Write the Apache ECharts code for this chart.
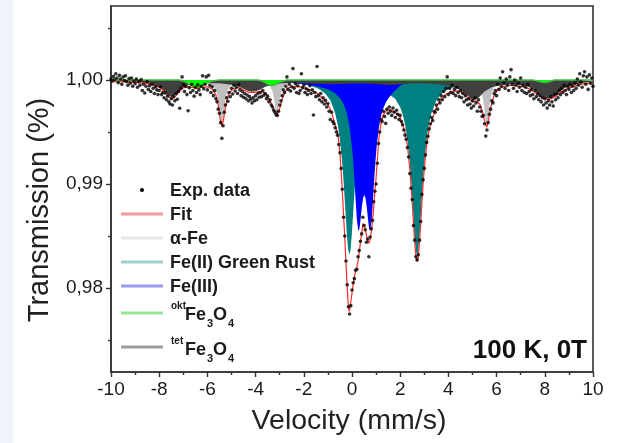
<!DOCTYPE html>
<html><head><meta charset="utf-8">
<script src="https://cdn.jsdelivr.net/npm/echarts@6/dist/echarts.min.js"></script>
<style>html,body{margin:0;padding:0;background:#fff}#c{width:622px;height:443px}</style>
</head><body><div id="c"></div>
<script>
// ---- axis ticks ----
const yTickValues = [0.98, 0.99, 1.00];
const yMinorTickValues = [0.975, 0.985, 0.995, 1.005];

// ---- experimental data: channel grid (-10 mm/s, step 0.05 mm/s) and transmission ----
const expStartV = -10;
const expStepV = 0.05;
const expT = [
1.00010,0.99990,1.00035,1.00005,1.00060,1.00020,0.99975,1.00045,1.00010,0.99960,1.00030,0.99995,1.00040,0.99985,0.99950,1.00015,0.99970,1.00020,0.99940,0.99990,
0.99965,1.00010,0.99930,0.99985,0.99950,1.00005,0.99900,0.99960,0.99875,0.99940,0.99985,0.99910,0.99945,0.99890,0.99960,0.99920,0.99870,0.99935,0.99905,0.99860,
0.99900,0.99935,0.99860,0.99880,0.99830,0.99875,0.99810,0.99845,0.99790,0.99770,0.99820,0.99760,0.99840,0.99800,0.99870,0.99815,0.99890,0.99728,0.99920,1.00030,
0.99955,0.99890,0.99940,0.99860,0.99705,0.99925,0.99880,0.99960,0.99900,0.99845,0.99930,0.99880,0.99955,0.99905,0.99860,0.99940,1.00040,0.99915,0.99960,1.00030,
0.99905,1.00045,0.99950,0.99880,0.99935,0.99850,0.99900,0.99820,0.99790,0.99720,0.99680,0.99590,0.99439,0.99560,0.99690,0.99760,0.99830,0.99795,0.99880,0.99840,
0.99920,0.99865,0.99950,0.99895,0.99930,0.99870,0.99960,0.99905,0.99850,0.99890,0.99835,0.99870,0.99820,0.99855,0.99800,0.99840,0.99815,0.99780,0.99830,0.99800,
0.99850,0.99810,0.99870,0.99835,0.99880,0.99840,0.99900,0.99855,0.99870,0.99820,0.99845,0.99790,0.99810,0.99760,0.99740,0.99710,0.99690,0.99665,0.99660,0.99700,
0.99760,0.99800,0.99850,0.99905,0.99880,0.99940,1.00030,0.99910,0.99960,0.99895,0.99935,1.00110,0.99920,0.99965,0.99880,0.99945,0.99870,0.99900,1.00060,0.99925,
0.99950,0.99880,0.99915,0.99860,0.99900,0.99945,0.99870,0.99905,0.99663,0.99880,0.99840,1.00130,0.99850,0.99810,0.99870,0.99790,0.99830,0.99770,0.99805,0.99740,
0.99775,0.99700,0.99620,0.99690,0.99600,0.99580,0.99540,0.99500,0.99470,0.99380,0.99300,0.99150,0.98950,0.98680,0.98500,0.98260,0.98030,0.97820,0.97750,0.97830,
0.97980,0.98050,0.98090,0.98170,0.98180,0.98300,0.98360,0.98450,0.98520,0.98680,0.98600,0.98560,0.98440,0.98470,0.98300,0.98490,0.98570,0.98650,0.98830,0.98930,
0.99000,0.99200,0.99390,0.99500,0.99620,0.99600,0.99700,0.99650,0.99583,0.99720,0.99680,0.99740,0.99700,0.99660,0.99730,0.99690,0.99640,0.99710,0.99670,0.99620,
0.99660,0.99600,0.99570,0.99520,0.99470,0.99430,0.99350,0.99260,0.99100,0.98960,0.98850,0.98600,0.98460,0.98300,0.98270,0.98320,0.98460,0.98640,0.98900,0.99040,
0.99150,0.99280,0.99400,0.99460,0.99530,0.99580,0.99640,0.99610,0.99700,0.99690,0.99760,0.99720,0.99810,0.99780,0.99850,0.99810,0.99890,0.99840,0.99920,1.00030,
0.99860,0.99920,0.99880,0.99950,0.99870,0.99910,0.99850,0.99930,0.99880,0.99840,0.99900,0.99830,0.99870,0.99790,0.99850,0.99810,0.99760,0.99820,0.99770,0.99730,
0.99800,0.99750,0.99830,0.99780,0.99700,0.99810,0.99740,0.99700,0.99650,0.99660,0.99580,0.99461,0.99520,0.99590,0.99670,0.99720,0.99800,0.99780,0.99870,0.99900,
0.99850,0.99960,0.99910,1.00020,0.99940,1.00080,0.99970,0.99920,1.00010,0.99950,0.99900,1.00030,1.00100,0.99960,0.99920,1.00000,0.99950,0.99890,0.99970,0.99930,
1.00020,0.99900,0.99950,0.99880,0.99930,0.99870,0.99960,0.99890,0.99850,0.99910,0.99860,0.99820,0.99900,0.99840,0.99870,0.99810,0.99850,0.99790,0.99830,0.99760,
0.99820,0.99780,0.99730,0.99800,0.99760,0.99840,0.99790,0.99750,0.99860,0.99810,0.99870,0.99830,0.99900,0.99860,0.99920,0.99880,0.99950,0.99900,0.99860,0.99940,
0.99910,0.99960,0.99880,0.99940,0.99900,0.99970,0.99920,1.00010,0.99950,1.00060,0.99980,0.99930,1.00040,1.00080,0.99960,1.00030,0.99910,1.00050,0.99970,1.00020,0.99940
];

// ---- fit and subspectra: [velocity, transmission] ----
const fitCurve = [
[-10.0,0.99985],[-9.5,0.99982],[-9.0,0.99978],[-8.6,0.99970],[-8.3,0.99955],[-8.0,0.99930],[-7.8,0.99895],[-7.65,0.99855],[-7.48,0.99814],[-7.3,0.99850],[-7.15,0.99895],[-7.0,0.99925],[-6.8,0.99935],[-6.6,0.99928],[-6.44,0.99918],[-6.25,0.99928],[-6.0,0.99935],[-5.8,0.99915],[-5.65,0.99860],[-5.55,0.99760],[-5.47,0.99620],[-5.40,0.99555],[-5.33,0.99620],[-5.25,0.99750],[-5.12,0.99865],[-4.95,0.99915],[-4.7,0.99928],[-4.5,0.99905],[-4.25,0.99880],[-4.0,0.99882],[-3.75,0.99893],[-3.55,0.99860],[-3.4,0.99800],[-3.25,0.99720],[-3.12,0.99670],[-3.0,0.99725],[-2.88,0.99830],[-2.7,0.99918],[-2.5,0.99938],[-2.2,0.99936],[-1.9,0.99920],[-1.6,0.99895],[-1.4,0.99865],[-1.2,0.99820],[-1.0,0.99765],[-0.9,0.99720],[-0.8,0.99650],[-0.7,0.99570],[-0.6,0.99490],[-0.55,0.99410],[-0.5,0.99290],[-0.45,0.99120],[-0.4,0.98920],[-0.35,0.98700],[-0.3,0.98490],[-0.25,0.98240],[-0.2,0.98010],[-0.16,0.97850],[-0.12,0.97775],[-0.08,0.97810],[-0.04,0.97880],[0.0,0.97950],[0.05,0.98040],[0.1,0.98110],[0.15,0.98160],[0.2,0.98200],[0.26,0.98270],[0.33,0.98400],[0.4,0.98530],[0.46,0.98620],[0.52,0.98600],[0.58,0.98530],[0.64,0.98460],[0.7,0.98430],[0.76,0.98470],[0.82,0.98580],[0.88,0.98720],[0.94,0.98900],[1.0,0.99060],[1.06,0.99260],[1.12,0.99450],[1.2,0.99580],[1.3,0.99670],[1.45,0.99710],[1.6,0.99715],[1.8,0.99690],[2.0,0.99640],[2.2,0.99500],[2.3,0.99370],[2.4,0.99140],[2.45,0.98990],[2.5,0.98820],[2.55,0.98630],[2.6,0.98440],[2.65,0.98310],[2.7,0.98255],[2.75,0.98300],[2.8,0.98440],[2.85,0.98620],[2.9,0.98820],[2.95,0.99000],[3.0,0.99150],[3.1,0.99380],[3.2,0.99520],[3.3,0.99600],[3.5,0.99740],[3.7,0.99820],[3.9,0.99865],[4.1,0.99888],[4.3,0.99895],[4.5,0.99888],[4.7,0.99855],[4.9,0.99810],[5.04,0.99790],[5.18,0.99800],[5.32,0.99760],[5.43,0.99680],[5.52,0.99590],[5.59,0.99545],[5.66,0.99610],[5.75,0.99730],[5.88,0.99840],[6.05,0.99910],[6.3,0.99940],[6.6,0.99950],[7.0,0.99940],[7.3,0.99920],[7.6,0.99880],[7.85,0.99840],[8.15,0.99810],[8.45,0.99840],[8.7,0.99890],[9.0,0.99925],[9.5,0.99960],[10.0,0.99975]
];

const greenRustCurve = [
[-10,0.99996],[-6,0.99992],[-4,0.99988],[-3,0.99980],[-2.3,0.99968],[-1.8,0.99950],[-1.4,0.99919],[-1.1,0.99869],[-0.9,0.99805],[-0.7,0.99684],[-0.6,0.99580],[-0.5,0.99424],[-0.41,0.99213],[-0.36,0.99060],[-0.31,0.98883],[-0.26,0.98691],[-0.21,0.98508],[-0.16,0.98371],[-0.11,0.98320],[-0.06,0.98371],[-0.01,0.98508],[0.04,0.98691],[0.09,0.98883],[0.14,0.99060],[0.19,0.99213],[0.29,0.99438],[0.39,0.99586],[0.49,0.99684],[0.69,0.99798],[0.89,0.99840],[1.19,0.99870],[1.4,0.99871],[1.6,0.99854],[1.8,0.99817],[2.0,0.99739],[2.1,0.99674],[2.2,0.99575],[2.3,0.99426],[2.4,0.99198],[2.45,0.99046],[2.5,0.98868],[2.55,0.98677],[2.6,0.98492],[2.65,0.98354],[2.7,0.98315],[2.75,0.98356],[2.8,0.98495],[2.85,0.98680],[2.9,0.98872],[2.95,0.99050],[3.0,0.99203],[3.1,0.99434],[3.2,0.99585],[3.3,0.99686],[3.5,0.99803],[3.7,0.99865],[4.0,0.99913],[4.4,0.99945],[4.9,0.99962],[5.7,0.99977],[7.0,0.99987],[10,0.99994]
];

const fe3Curve = [
[-3.3,1.0],[-3.0,0.99984],[-2.7,0.99977],[-2.5,0.99971],[-2.0,0.99960],[-1.5,0.99942],[-1.0,0.99911],[-0.7,0.99873],[-0.5,0.99826],[-0.4,0.99792],[-0.3,0.99740],[-0.2,0.99666],[-0.1,0.99548],[0.0,0.99351],[0.05,0.99212],[0.1,0.99039],[0.15,0.98846],[0.2,0.98666],[0.26,0.98548],[0.31,0.98569],[0.36,0.98668],[0.41,0.98783],[0.46,0.98865],[0.51,0.98894],[0.56,0.98865],[0.61,0.98783],[0.66,0.98668],[0.71,0.98569],[0.76,0.98548],[0.82,0.98666],[0.87,0.98846],[0.92,0.99039],[0.97,0.99212],[1.02,0.99351],[1.12,0.99548],[1.22,0.99666],[1.32,0.99740],[1.42,0.99792],[1.52,0.99826],[1.72,0.99885],[1.95,0.99935],[2.2,0.99975],[2.4,1.0]
];

const alphaFeCurve = [
[-10,1.0],[-6.4,0.99995],[-6.1,0.99985],[-5.85,0.99966],[-5.7,0.99930],[-5.6,0.99869],[-5.55,0.99811],[-5.5,0.99723],[-5.45,0.99617],[-5.4,0.99560],[-5.35,0.99617],[-5.3,0.99723],[-5.25,0.99811],[-5.2,0.99869],[-5.1,0.99930],[-4.95,0.99966],[-4.7,0.99985],[-4.4,0.99990],[-4.0,0.99985],[-3.82,0.99980],[-3.57,0.99970],[-3.42,0.99945],[-3.32,0.99903],[-3.27,0.99861],[-3.22,0.99797],[-3.17,0.99719],[-3.12,0.99678],[-3.07,0.99719],[-3.02,0.99797],[-2.97,0.99861],[-2.92,0.99903],[-2.82,0.99945],[-2.67,0.99970],[-2.42,0.99985],[-2.0,0.99992],[-1.5,1.0],[4.3,1.0],[4.6,0.99993],[4.89,0.99985],[5.14,0.99966],[5.29,0.99930],[5.39,0.99869],[5.44,0.99811],[5.49,0.99723],[5.54,0.99617],[5.59,0.99560],[5.64,0.99617],[5.69,0.99723],[5.74,0.99811],[5.79,0.99869],[5.89,0.99930],[6.04,0.99966],[6.29,0.99985],[6.6,0.99993],[7.0,1.0],[10,1.0]
];

const tetFe3O4Curve = [
[-10,0.99995],[-9,0.99985],[-8.5,0.99970],[-8.2,0.99945],[-7.95,0.99920],[-7.8,0.99895],[-7.65,0.99860],[-7.48,0.99835],[-7.3,0.99860],[-7.15,0.99895],[-7.0,0.99925],[-6.8,0.99950],[-6.5,0.99965],[-6.0,0.99970],[-5.5,0.99968],[-5.0,0.99955],[-4.7,0.99935],[-4.5,0.99915],[-4.3,0.99895],[-4.15,0.99888],[-4.0,0.99893],[-3.8,0.99910],[-3.6,0.99935],[-3.3,0.99955],[-2.9,0.99968],[-2.5,0.99972],[-2.0,0.99970],[-1.5,0.99965],[-1.0,0.99960],[-0.5,0.99962],[0.0,0.99966],[0.5,0.99966],[1.0,0.99962],[1.4,0.99955],[1.65,0.99952],[1.9,0.99956],[2.4,0.99966],[3.0,0.99970],[3.6,0.99960],[4.1,0.99940],[4.5,0.99905],[4.8,0.99850],[5.04,0.99800],[5.25,0.99830],[5.5,0.99890],[5.8,0.99930],[6.2,0.99955],[6.7,0.99962],[7.2,0.99945],[7.5,0.99915],[7.75,0.99870],[7.95,0.99835],[8.15,0.99818],[8.35,0.99835],[8.55,0.99875],[8.8,0.99920],[9.2,0.99955],[9.6,0.99975],[10,0.99985]
];

const oktFe3O4Curve = [
[-10,1.0],[-7.2,1.0],[-7.0,0.99992],[-6.85,0.99976],[-6.7,0.99952],[-6.55,0.99930],[-6.44,0.99921],[-6.3,0.99932],[-6.15,0.99955],[-6.0,0.99975],[-5.8,0.99990],[-5.5,1.0],[-3.9,1.0],[-3.7,0.99988],[-3.55,0.99968],[-3.42,0.99953],[-3.3,0.99948],[-3.18,0.99956],[-3.05,0.99973],[-2.9,0.99988],[-2.7,1.0],[7.5,1.0],[7.7,0.99990],[7.9,0.99978],[8.05,0.99976],[8.2,0.99986],[8.4,1.0],[10,1.0]
];

const legendLabels = ['Exp. data', 'Fit', 'α-Fe', 'Fe(II) Green Rust', 'Fe(III)'];

// ---- build chart ----
const expData = expT.map((t, i) => [expStartV + i * expStepV, t]);
const FONT = "'Liberation Sans', Arial, Helvetica, sans-serif";
const AX = '#333';

function fillSeries(name, data, fill) {
  return {
    type: 'line', name, data, symbol: 'none', silent: true,
    lineStyle: { width: 0, color: fill, opacity: 0 },
    areaStyle: { color: fill, opacity: 1, origin: 1 },
    z: 2
  };
}

const chart = echarts.init(document.getElementById('c'), null, { renderer: 'canvas' });

const legendRowsY = [190, 214, 238, 262, 286];
const legendLineColors = [null, '#f29c9c', '#e8e8e8', '#9fcfcf', '#9c9cf2'];
const graphics = [
  { type: 'rect', shape: { x: 0, y: 0, width: 13, height: 443 }, style: { fill: '#eef4f9' }, z: -10 }
];
legendLabels.forEach((lab, i) => {
  const y = legendRowsY[i];
  if (i === 0) {
    graphics.push({ type: 'circle', shape: { cx: 142, cy: y, r: 2 }, style: { fill: '#000' }, z: 50 });
  } else {
    graphics.push({ type: 'line', shape: { x1: 121, y1: y, x2: 163, y2: y }, style: { stroke: legendLineColors[i], lineWidth: 3 }, z: 50 });
  }
  graphics.push({ type: 'text', x: 170, y: y + 1, z: 50,
    style: { text: lab, font: 'bold 18px ' + FONT, fill: '#1a1a1a', textAlign: 'left', textVerticalAlign: 'middle', align: 'left', verticalAlign: 'middle' } });
});
function formulaRow(prefix, yLine, yMain, color) {
  graphics.push({ type: 'line', shape: { x1: 121, y1: yLine, x2: 163, y2: yLine }, style: { stroke: color, lineWidth: 3 }, z: 50 });
  const parts = [
    [prefix, 171, yMain - 9, 10],
    ['Fe', 185, yMain, 18],
    ['3', 207, yMain + 9, 11],
    ['O', 213, yMain, 18],
    ['4', 228, yMain + 9, 11]
  ];
  parts.forEach(p => graphics.push({ type: 'text', x: p[1], y: p[2], z: 50,
    style: { text: p[0], font: 'bold ' + p[3] + 'px ' + FONT, fill: '#1a1a1a', textAlign: 'left', textVerticalAlign: 'middle', align: 'left', verticalAlign: 'middle' } }));
}
formulaRow('okt', 313, 315, '#96e896');
formulaRow('tet', 347, 350, '#9c9c9c');

graphics.push({ type: 'text', x: 587, y: 351, z: 50,
  style: { text: '100 K, 0T', font: 'bold 26px ' + FONT, fill: '#111', textAlign: 'right', textVerticalAlign: 'middle', align: 'right', verticalAlign: 'middle' } });
graphics.push({ type: 'text', x: 349, y: 421, z: 50,
  style: { text: 'Velocity (mm/s)', font: '28.5px ' + FONT, fill: '#222', textAlign: 'center', textVerticalAlign: 'middle', align: 'center', verticalAlign: 'middle' } });
graphics.push({ type: 'text', x: 40, y: 210, rotation: Math.PI / 2, z: 50,
  style: { text: 'Transmission (%)', font: '29px ' + FONT, fill: '#222', textAlign: 'center', textVerticalAlign: 'middle', align: 'center', verticalAlign: 'middle' } });

chart.setOption({
  animation: false,
  backgroundColor: '#fff',
  grid: { left: 111, right: 29, top: 6, bottom: 71, show: true, borderColor: AX, borderWidth: 1.6, backgroundColor: 'transparent' },
  xAxis: {
    type: 'value', min: -10, max: 10, interval: 2,
    axisLine: { show: true, onZero: false, lineStyle: { color: AX, width: 1.6 } },
    axisTick: { show: true, length: 5, inside: false, lineStyle: { color: AX, width: 1.4 } },
    minorTick: { show: true, splitNumber: 2, length: 3, lineStyle: { color: AX, width: 1.4 } },
    splitLine: { show: false },
    axisLabel: { fontSize: 19, fontFamily: FONT, color: '#1a1a1a', margin: 8 }
  },
  yAxis: [{
    type: 'value', min: 0.97192, max: 1.00712, position: 'left',
    axisLine: { show: true, onZero: false, lineStyle: { color: AX, width: 1.6 } },
    axisTick: { show: true, length: 5, customValues: yTickValues, lineStyle: { color: AX, width: 1.4 } },
    splitLine: { show: false },
    axisLabel: { customValues: yTickValues, fontSize: 19, fontFamily: FONT, color: '#1a1a1a', margin: 8,
      formatter: v => v.toFixed(2).replace('.', ',') }
  }, {
    type: 'value', min: 0.97192, max: 1.00712, position: 'left',
    axisLine: { show: false, onZero: false },
    axisTick: { show: true, length: 3, customValues: yMinorTickValues, lineStyle: { color: AX, width: 1.4 } },
    axisLabel: { show: false }, splitLine: { show: false }
  }],
  graphic: { elements: graphics },
  series: [
    fillSeries('Fe(II) Green Rust', greenRustCurve, '#008080'),
    fillSeries('Fe(III)', fe3Curve, '#0000ff'),
    fillSeries('α-Fe', alphaFeCurve, '#c0c0c0'),
    fillSeries('tetFe3O4', tetFe3O4Curve, '#404040'),
    { type: 'line', name: 'oktFe3O4', data: oktFe3O4Curve, symbol: 'none', silent: true,
      lineStyle: { width: 1.6, color: '#3cbf3c' }, areaStyle: { color: '#00ff00', opacity: 1, origin: 1 }, z: 3 },
    { type: 'line', name: 'Fit', data: fitCurve, symbol: 'none', silent: true, smooth: false,
      lineStyle: { width: 1.2, color: '#ff2a2a' }, z: 4 },
    { type: 'scatter', name: 'Exp. data', data: expData, symbolSize: 3.6, silent: true,
      itemStyle: { color: '#000' }, z: 5 }
  ]
});
</script></body></html>
